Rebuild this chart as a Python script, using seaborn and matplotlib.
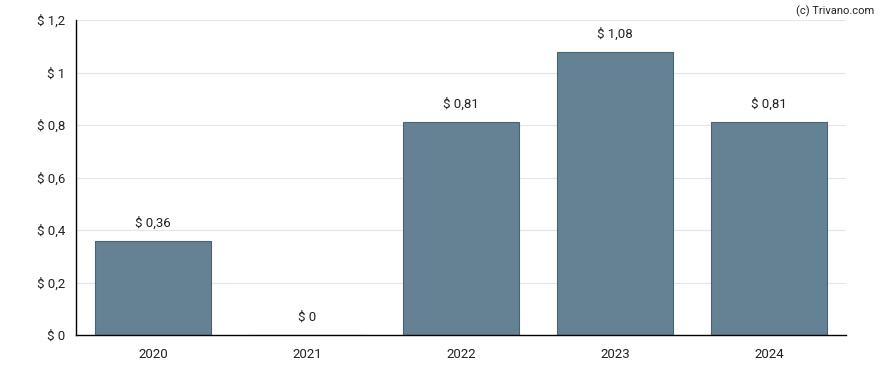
import matplotlib
matplotlib.use("Agg")
import matplotlib.pyplot as plt
import seaborn as sns
import pandas as pd

years = ["2020", "2021", "2022", "2023", "2024"]
values = [0.36, 0.0, 0.81, 1.08, 0.81]
labels = ["$ 0,36", "$ 0", "$ 0,81", "$ 1,08", "$ 0,81"]
yticks = [0, 0.2, 0.4, 0.6, 0.8, 1.0, 1.2]
ytick_labels = ["$ 0", "$ 0,2", "$ 0,4", "$ 0,6", "$ 0,8", "$ 1", "$ 1,2"]

sns.set_style("white")
plt.rcParams["font.family"] = ["Roboto", "DejaVu Sans"]

df = pd.DataFrame({"year": years, "value": values})

fig = plt.figure(figsize=(8.88, 3.70), dpi=100)
ax = fig.add_axes([76 / 888, 35 / 370, 770 / 888, 315 / 370])

sns.barplot(data=df, x="year", y="value", color="#658294", saturation=1,
            width=0.75, edgecolor="#4a6274", linewidth=0.8, ax=ax, zorder=2)

ax.set_ylim(0, 1.2)
ax.set_xlim(-0.5, 4.5)
ax.set_yticks(yticks)
ax.set_yticklabels(ytick_labels)
ax.yaxis.grid(True, color="#e6e6e6", linewidth=0.8, zorder=0)
ax.set_axisbelow(True)
ax.set_xlabel("")
ax.set_ylabel("")

for side in ["top", "right"]:
    ax.spines[side].set_visible(False)
for side in ["left", "bottom"]:
    ax.spines[side].set_color("black")
    ax.spines[side].set_linewidth(1)

ax.tick_params(axis="both", direction="out", length=5, width=1, color="black",
               labelsize=9.5, labelcolor="#222222")
ax.tick_params(axis="x", pad=4)
ax.tick_params(axis="y", pad=3)

for i, (v, lab) in enumerate(zip(values, labels)):
    ax.annotate(lab, (i, v), xytext=(0, 8), textcoords="offset points",
                ha="center", va="bottom", fontsize=9.5, color="#222222")

fig.text(0.985, 0.985, "(c) Trivano.com", ha="right", va="top",
         fontsize=8, color="#222222")

fig.savefig("out.png", dpi=100)
